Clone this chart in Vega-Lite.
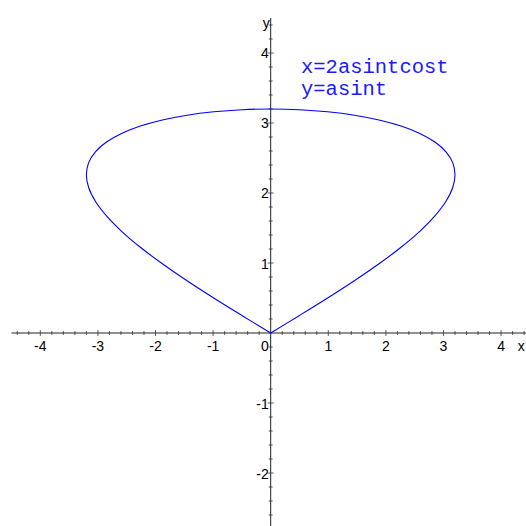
{
  "$schema": "https://vega.github.io/schema/vega-lite/v6.json",
  "width": 526,
  "height": 526,
  "padding": 0,
  "autosize": {"type": "none"},
  "background": "white",
  "config": {"view": {"stroke": null}},
  "datasets": {
    "curve": [
      {"t": 0, "x": 0, "y": 0},
      {"t": 1, "x": 0.5006, "y": 0.2511},
      {"t": 2, "x": 0.9889, "y": 0.5006},
      {"t": 3, "x": 1.4528, "y": 0.747},
      {"t": 4, "x": 1.8809, "y": 0.9889},
      {"t": 5, "x": 2.2627, "y": 1.2246},
      {"t": 6, "x": 2.5889, "y": 1.4528},
      {"t": 7, "x": 2.8512, "y": 1.672},
      {"t": 8, "x": 3.0434, "y": 1.8809},
      {"t": 9, "x": 3.1606, "y": 2.0782},
      {"t": 10, "x": 3.2, "y": 2.2627},
      {"t": 11, "x": 3.1606, "y": 2.4333},
      {"t": 12, "x": 3.0434, "y": 2.5889},
      {"t": 13, "x": 2.8512, "y": 2.7284},
      {"t": 14, "x": 2.5889, "y": 2.8512},
      {"t": 15, "x": 2.2627, "y": 2.9564},
      {"t": 16, "x": 1.8809, "y": 3.0434},
      {"t": 17, "x": 1.4528, "y": 3.1116},
      {"t": 18, "x": 0.9889, "y": 3.1606},
      {"t": 19, "x": 0.5006, "y": 3.1901},
      {"t": 20, "x": 0, "y": 3.2},
      {"t": 21, "x": -0.5006, "y": 3.1901},
      {"t": 22, "x": -0.9889, "y": 3.1606},
      {"t": 23, "x": -1.4528, "y": 3.1116},
      {"t": 24, "x": -1.8809, "y": 3.0434},
      {"t": 25, "x": -2.2627, "y": 2.9564},
      {"t": 26, "x": -2.5889, "y": 2.8512},
      {"t": 27, "x": -2.8512, "y": 2.7284},
      {"t": 28, "x": -3.0434, "y": 2.5889},
      {"t": 29, "x": -3.1606, "y": 2.4333},
      {"t": 30, "x": -3.2, "y": 2.2627},
      {"t": 31, "x": -3.1606, "y": 2.0782},
      {"t": 32, "x": -3.0434, "y": 1.8809},
      {"t": 33, "x": -2.8512, "y": 1.672},
      {"t": 34, "x": -2.5889, "y": 1.4528},
      {"t": 35, "x": -2.2627, "y": 1.2246},
      {"t": 36, "x": -1.8809, "y": 0.9889},
      {"t": 37, "x": -1.4528, "y": 0.747},
      {"t": 38, "x": -0.9889, "y": 0.5006},
      {"t": 39, "x": -0.5006, "y": 0.2511},
      {"t": 40, "x": 0, "y": 0}
    ],
    "axisLines": [
      {"x1": -4.5, "x2": 4.6, "y1": 0, "y2": 0},
      {"x1": 0, "x2": 0, "y1": -2.8, "y2": 4.5}
    ],
    "xMinor": [
      {"v": -4.4}, {"v": -4.2}, {"v": -3.8}, {"v": -3.6}, {"v": -3.4}, {"v": -3.2},
      {"v": -2.8}, {"v": -2.6}, {"v": -2.4}, {"v": -2.2}, {"v": -1.8}, {"v": -1.6},
      {"v": -1.4}, {"v": -1.2}, {"v": -0.8}, {"v": -0.6}, {"v": -0.4}, {"v": -0.2},
      {"v": 0.2}, {"v": 0.4}, {"v": 0.6}, {"v": 0.8}, {"v": 1.2}, {"v": 1.4},
      {"v": 1.6}, {"v": 1.8}, {"v": 2.2}, {"v": 2.4}, {"v": 2.6}, {"v": 2.8},
      {"v": 3.2}, {"v": 3.4}, {"v": 3.6}, {"v": 3.8}, {"v": 4.2}, {"v": 4.4}
    ],
    "yMinor": [
      {"v": -2.6}, {"v": -2.4}, {"v": -2.2}, {"v": -1.8}, {"v": -1.6}, {"v": -1.4},
      {"v": -1.2}, {"v": -0.8}, {"v": -0.6}, {"v": -0.4}, {"v": -0.2},
      {"v": 0.2}, {"v": 0.4}, {"v": 0.6}, {"v": 0.8}, {"v": 1.2}, {"v": 1.4},
      {"v": 1.6}, {"v": 1.8}, {"v": 2.2}, {"v": 2.4}, {"v": 2.6}, {"v": 2.8},
      {"v": 3.2}, {"v": 3.4}, {"v": 3.6}, {"v": 3.8}, {"v": 4.2}, {"v": 4.4}
    ],
    "xMajor": [
      {"v": -4, "label": "-4"}, {"v": -3, "label": "-3"}, {"v": -2, "label": "-2"},
      {"v": -1, "label": "-1"}, {"v": 1, "label": "1"}, {"v": 2, "label": "2"},
      {"v": 3, "label": "3"}, {"v": 4, "label": "4"}
    ],
    "yMajor": [
      {"v": -2, "label": "-2"}, {"v": -1, "label": "-1"}, {"v": 1, "label": "1"},
      {"v": 2, "label": "2"}, {"v": 3, "label": "3"}, {"v": 4, "label": "4"}
    ],
    "notes": [
      {"x": 0.526, "y": 3.71, "text": "x=2asintcost"},
      {"x": 0.526, "y": 3.405, "text": "y=asint"}
    ]
  },
  "encoding": {
    "x": {"type": "quantitative", "scale": {"domain": [-4.7, 4.433], "nice": false, "zero": false}, "axis": null},
    "y": {"type": "quantitative", "scale": {"domain": [-2.757, 4.757], "nice": false, "zero": false}, "axis": null}
  },
  "layer": [
    {
      "data": {"name": "axisLines"},
      "mark": {"type": "rule", "color": "#222", "strokeWidth": 1, "clip": true},
      "encoding": {
        "x": {"field": "x1", "type": "quantitative"},
        "x2": {"field": "x2"},
        "y": {"field": "y1", "type": "quantitative"},
        "y2": {"field": "y2"}
      }
    },
    {
      "data": {"name": "xMinor"},
      "mark": {"type": "tick", "orient": "vertical", "size": 4, "thickness": 1, "color": "#222"},
      "encoding": {"x": {"field": "v", "type": "quantitative"}, "y": {"datum": 0}}
    },
    {
      "data": {"name": "xMajor"},
      "mark": {"type": "tick", "orient": "vertical", "size": 6, "thickness": 1, "color": "#222"},
      "encoding": {"x": {"field": "v", "type": "quantitative"}, "y": {"datum": 0}}
    },
    {
      "data": {"name": "yMinor"},
      "mark": {"type": "tick", "orient": "horizontal", "size": 4, "thickness": 1, "color": "#222"},
      "encoding": {"y": {"field": "v", "type": "quantitative"}, "x": {"datum": 0}}
    },
    {
      "data": {"name": "yMajor"},
      "mark": {"type": "tick", "orient": "horizontal", "size": 6, "thickness": 1, "color": "#222"},
      "encoding": {"y": {"field": "v", "type": "quantitative"}, "x": {"datum": 0}}
    },
    {
      "data": {"name": "xMajor"},
      "mark": {"type": "text", "font": "Liberation Sans", "fontSize": 14, "color": "black", "align": "center", "baseline": "alphabetic", "dy": 18},
      "encoding": {"x": {"field": "v", "type": "quantitative"}, "y": {"datum": 0}, "text": {"field": "label"}}
    },
    {
      "data": {"name": "yMajor"},
      "mark": {"type": "text", "font": "Liberation Sans", "fontSize": 14, "color": "black", "align": "right", "baseline": "alphabetic", "dx": -2, "dy": 5.5},
      "encoding": {"y": {"field": "v", "type": "quantitative"}, "x": {"datum": 0}, "text": {"field": "label"}}
    },
    {
      "data": {"values": [{"v": 0, "label": "0"}]},
      "mark": {"type": "text", "font": "Liberation Sans", "fontSize": 14, "color": "black", "align": "right", "baseline": "alphabetic", "dx": -2, "dy": 18},
      "encoding": {"x": {"field": "v", "type": "quantitative"}, "y": {"datum": 0}, "text": {"field": "label"}}
    },
    {
      "data": {"values": [{"x": 4.41, "y": 0, "label": "x"}]},
      "mark": {"type": "text", "font": "Liberation Sans", "fontSize": 14, "color": "black", "align": "right", "baseline": "alphabetic", "dy": 18},
      "encoding": {"x": {"field": "x", "type": "quantitative"}, "y": {"field": "y", "type": "quantitative"}, "text": {"field": "label"}}
    },
    {
      "data": {"values": [{"x": 0, "y": 4.357, "label": "y"}]},
      "mark": {"type": "text", "font": "Liberation Sans", "fontSize": 14, "color": "black", "align": "right", "baseline": "alphabetic", "dx": -1},
      "encoding": {"x": {"field": "x", "type": "quantitative"}, "y": {"field": "y", "type": "quantitative"}, "text": {"field": "label"}}
    },
    {
      "data": {"name": "curve"},
      "mark": {"type": "line", "color": "#0000ff", "strokeWidth": 1.1, "interpolate": "catmull-rom"},
      "encoding": {
        "x": {"field": "x", "type": "quantitative"},
        "y": {"field": "y", "type": "quantitative"},
        "order": {"field": "t", "type": "quantitative"}
      }
    },
    {
      "data": {"name": "notes"},
      "mark": {"type": "text", "font": "Liberation Mono", "fontSize": 20.5, "color": "#1a1aff", "align": "left", "baseline": "alphabetic"},
      "encoding": {"x": {"field": "x", "type": "quantitative"}, "y": {"field": "y", "type": "quantitative"}, "text": {"field": "text"}}
    }
  ]
}
